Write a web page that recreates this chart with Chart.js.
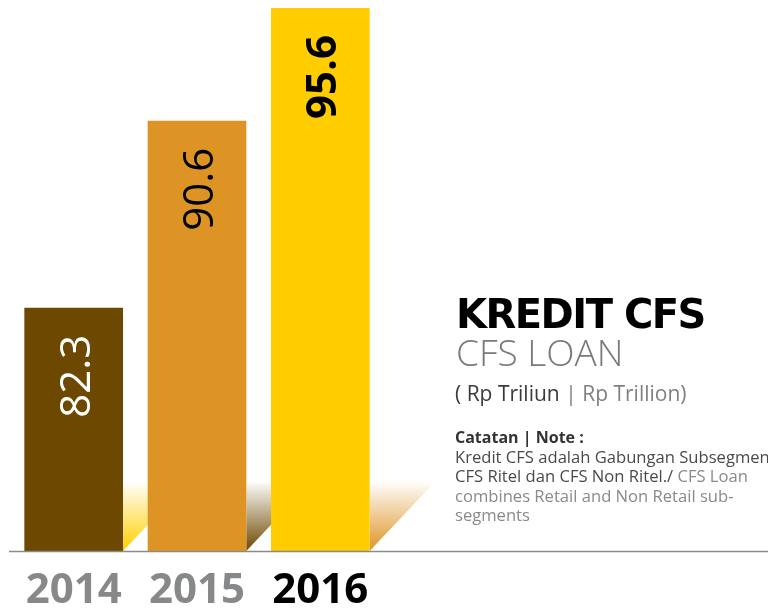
<!DOCTYPE html>
<html>
<head>
<meta charset="utf-8">
<script src="https://cdn.jsdelivr.net/npm/chart.js@4"></script>
<style>
html, body { margin: 0; padding: 0; background: #fff; }
#wrap { position: relative; width: 768px; height: 608px; overflow: hidden; }
</style>
</head>
<body>
<div id="wrap"><canvas id="loanChart" width="768" height="608"></canvas></div>
<script>
// Kredit CFS, Rp Triliun
const years = ['2014', '2015', '2016'];
const loanValues = [82.3, 90.6, 95.6];
const yMin = 71.5;
const yMax = 95.6;

const barColors = ['#6D4800', '#DE9425', '#FFCD00'];
const shadowColors = ['#FFD000', '#6D4800', '#DE9425'];
const labelColors = ['#FFFFFF', '#000000', '#000000'];
const labelWeights = ['400', '400', '700'];
const tickColors = ['#87888A', '#87888A', '#000000'];

// text block on the right
const titleText = 'KREDIT CFS';
const subtitleText = 'CFS LOAN';
const unitRuns = [['( Rp Triliun ', '#3A3A3A'], ['| Rp Trillion)', '#808080']];
const noteHead = 'Catatan | Note :';
const noteLines = [
    [['Kredit CFS adalah Gabungan Subsegmen', '#4A4A4A']],
    [['CFS Ritel dan CFS Non Ritel./', '#4A4A4A'], [' CFS Loan', '#8A8A8A']],
    [['combines Retail and Non Retail sub-', '#8A8A8A']],
    [['segments', '#8A8A8A']]
];

function drawRuns(ctx, x, y, runs, font) {
    ctx.font = font;
    runs.forEach(r => {
        ctx.fillStyle = r[1];
        ctx.fillText(r[0], x, y);
        x += ctx.measureText(r[0]).width;
    });
}

const barExtras = {
    id: 'barExtras',
    beforeDatasetsDraw(chart) {
        const ctx = chart.ctx;
        const base = chart.scales.y.getPixelForValue(yMin);
        const meta = chart.getDatasetMeta(0);
        meta.data.forEach((bar, i) => {
            const right = bar.x + bar.width / 2;
            const g = ctx.createLinearGradient(0, base - 70, 0, base);
            g.addColorStop(0, shadowColors[i] + '00');
            g.addColorStop(1, shadowColors[i]);
            ctx.save();
            ctx.fillStyle = g;
            ctx.beginPath();
            ctx.moveTo(right, base);
            ctx.lineTo(right, base - 70);
            ctx.lineTo(right + 66, base - 70);
            ctx.closePath();
            ctx.fill();
            ctx.restore();
        });
    },
    afterDatasetsDraw(chart) {
        const ctx = chart.ctx;
        const base = chart.scales.y.getPixelForValue(yMin);
        ctx.save();
        ctx.strokeStyle = '#8A8A8A';
        ctx.lineWidth = 1.5;
        ctx.beginPath();
        ctx.moveTo(9, base + 0.5);
        ctx.lineTo(768, base + 0.5);
        ctx.stroke();

        // value labels, rotated inside the bars
        const meta = chart.getDatasetMeta(0);
        meta.data.forEach((bar, i) => {
            ctx.save();
            ctx.translate(bar.x + 16, bar.y + 27);
            ctx.rotate(-Math.PI / 2);
            ctx.font = labelWeights[i] + ' 42px "Open Sans"';
            ctx.fillStyle = labelColors[i];
            ctx.textAlign = 'right';
            ctx.textBaseline = 'alphabetic';
            ctx.fillText(loanValues[i].toFixed(1), 0, 0);
            ctx.restore();
        });

        // title and notes
        ctx.textAlign = 'left';
        ctx.textBaseline = 'alphabetic';
        ctx.fillStyle = '#000';
        ctx.font = 'bold 40px "DejaVu Sans"';
        ctx.letterSpacing = '-1.5px';
        ctx.fillText(titleText, 456, 328);
        ctx.letterSpacing = '0px';
        ctx.fillStyle = '#78797B';
        ctx.font = '300 37px "Open Sans"';
        ctx.fillText(subtitleText, 456, 366);
        drawRuns(ctx, 455, 401, unitRuns, '21px "Open Sans"');
        ctx.fillStyle = '#333';
        ctx.font = 'bold 16px "Open Sans"';
        ctx.fillText(noteHead, 455, 443);
        noteLines.forEach((line, i) => {
            drawRuns(ctx, 455, 463 + i * 19.3, line, '16.6px "Open Sans"');
        });
        ctx.restore();
    }
};

Promise.all([
    document.fonts.load('300 42px "Open Sans"'),
    document.fonts.load('bold 42px "Open Sans"'),
    document.fonts.load('16px "Open Sans"'),
    document.fonts.load('bold 38px "DejaVu Sans"')
]).catch(() => {}).then(() => {
    const ctx = document.getElementById('loanChart').getContext('2d');
    new Chart(ctx, {
        type: 'bar',
        data: {
            labels: years,
            datasets: [{
                label: 'Kredit CFS',
                data: loanValues,
                backgroundColor: barColors,
                borderWidth: 0,
                barPercentage: 0.8,
                categoryPercentage: 1.0
            }]
        },
        options: {
            responsive: false,
            animation: false,
            layout: { padding: { top: 8, left: 12, right: 386, bottom: 0 } },
            plugins: {
                legend: { display: false },
                tooltip: { enabled: false }
            },
            scales: {
                x: {
                    grid: { display: false, drawTicks: false },
                    border: { display: false },
                    ticks: {
                        padding: 15,
                        color: c => tickColors[c.index],
                        font: { family: 'Open Sans', weight: 'bold', size: 42 }
                    },
                    afterFit: s => { s.height = 57; }
                },
                y: {
                    display: false,
                    min: yMin,
                    max: yMax
                }
            }
        },
        plugins: [barExtras]
    });
});
</script>
</body>
</html>
